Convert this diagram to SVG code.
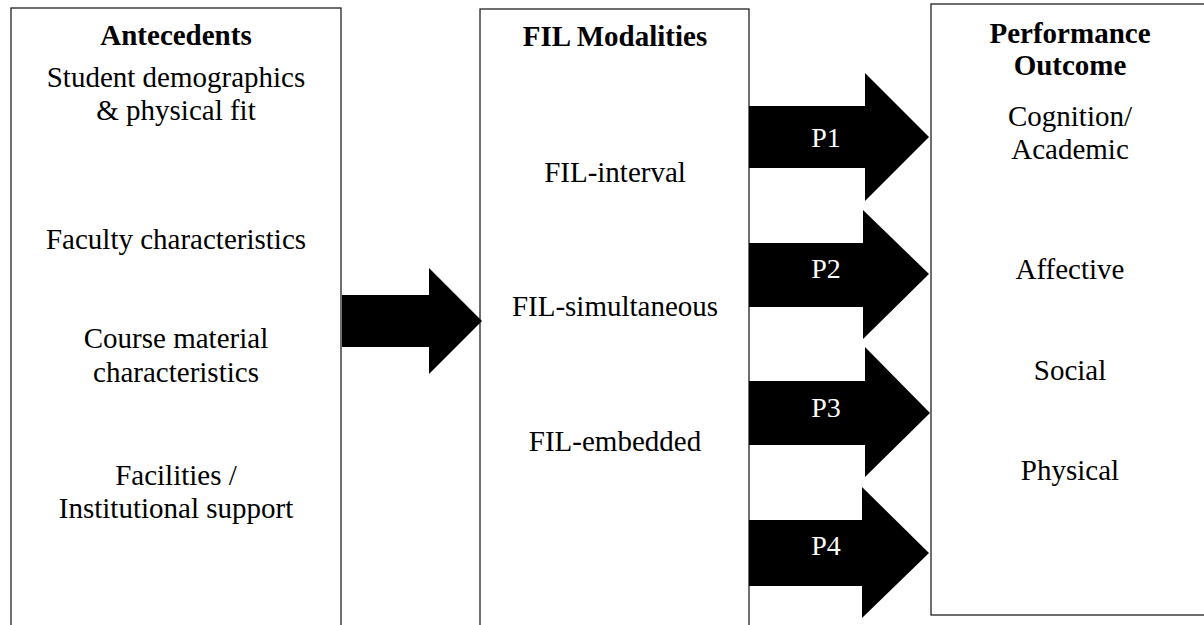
<svg xmlns="http://www.w3.org/2000/svg" width="1204" height="625" viewBox="0 0 1204 625">
<style>
.box{fill:#fff;stroke:#222;stroke-width:1.3}
.t{font-family:"Liberation Serif","Times New Roman",serif;font-size:29px;fill:#000;text-anchor:middle}
.h{font-weight:bold}
.arr{fill:#000;stroke:none}
.pl{font-family:"Liberation Serif","Times New Roman",serif;font-size:28px;fill:#fff;text-anchor:middle}
</style>
<rect width="1204" height="625" fill="#fff"/>
<g id="antecedents">
<rect class="box" x="11" y="8" width="330" height="630"/>
<text class="t h" x="176" y="45">Antecedents</text>
<text class="t" x="176" y="87">Student demographics</text>
<text class="t" x="176" y="120">&amp; physical fit</text>
<text class="t" x="176" y="249">Faculty characteristics</text>
<text class="t" x="176" y="348">Course material</text>
<text class="t" x="176" y="382">characteristics</text>
<text class="t" x="176" y="485">Facilities /</text>
<text class="t" x="176" y="518">Institutional support</text>
</g>
<g id="fil-modalities">
<rect class="box" x="480" y="9" width="269" height="630"/>
<text class="t h" x="615" y="46">FIL Modalities</text>
<text class="t" x="615" y="182">FIL-interval</text>
<text class="t" x="615" y="316">FIL-simultaneous</text>
<text class="t" x="615" y="451">FIL-embedded</text>
</g>
<g id="performance-outcome">
<rect class="box" x="931" y="4" width="280" height="611"/>
<text class="t h" x="1070" y="43">Performance</text>
<text class="t h" x="1070" y="75">Outcome</text>
<text class="t" x="1070" y="126">Cognition/</text>
<text class="t" x="1070" y="159">Academic</text>
<text class="t" x="1070" y="279">Affective</text>
<text class="t" x="1070" y="380">Social</text>
<text class="t" x="1070" y="480">Physical</text>
</g>
<g id="connectors">
<polygon class="arr" points="342,295 429,295 429,268 482,321 429,374 429,347 342,347"/>
<g id="p1">
<polygon class="arr" points="749,106 865,106 865,73 929,137 865,201 865,168 749,168"/>
<text class="pl" x="826" y="147">P1</text>
</g>
<g id="p2">
<polygon class="arr" points="749,243 863,243 863,210 929,274 863,339 863,307 749,307"/>
<text class="pl" x="826" y="278">P2</text>
</g>
<g id="p3">
<polygon class="arr" points="749,381 865,381 865,347 930,413 865,477 865,445 749,445"/>
<text class="pl" x="826" y="417">P3</text>
</g>
<g id="p4">
<polygon class="arr" points="749,520 862,520 862,487 929,553 862,618 862,586 749,586"/>
<text class="pl" x="826" y="555">P4</text>
</g>
</g>
</svg>
